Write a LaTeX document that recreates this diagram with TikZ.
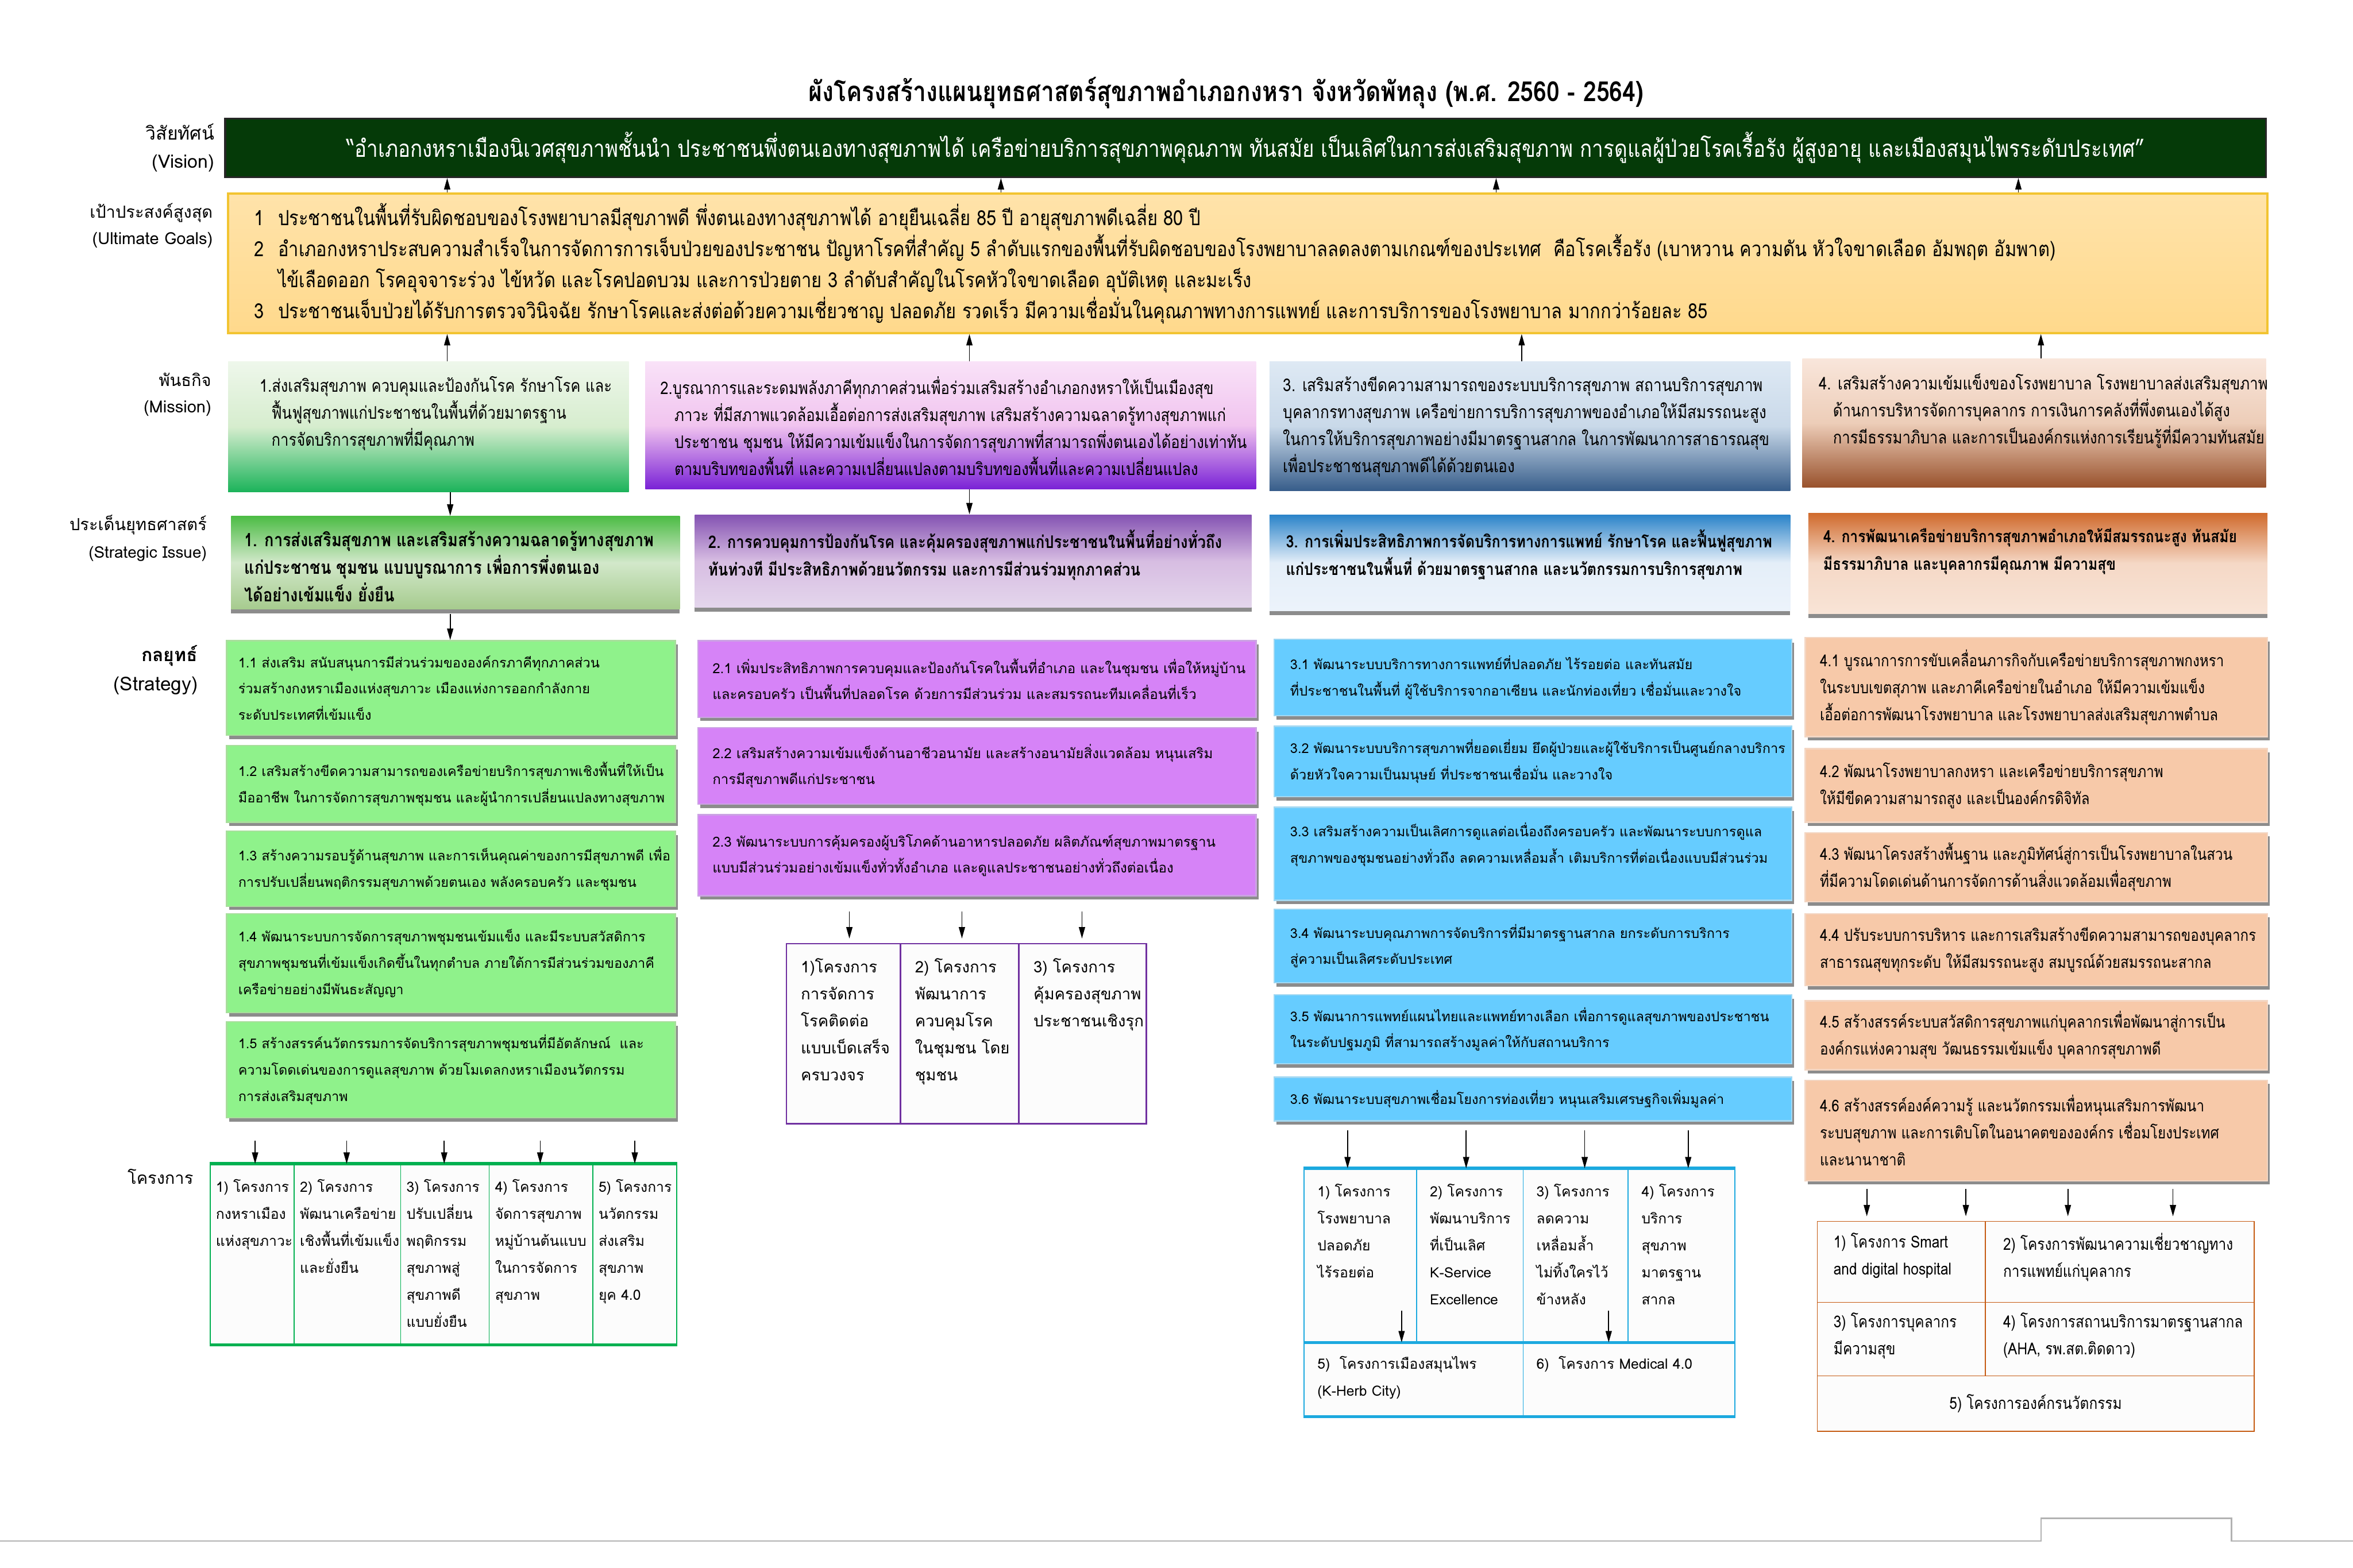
\documentclass[tikz,border=0pt]{standalone}
\usepackage{fontspec}
\usepackage{tikz}
\usetikzlibrary{arrows.meta, positioning, calc, fit, shadows}

\newfontfamily\thaiA[Script=Thai,FakeStretch=0.85]{Loma}
\newfontfamily\thaiB[Script=Thai]{Loma}

\definecolor{visgreen}{HTML}{053A08}
\definecolor{goalA}{HTML}{FFE3AA}
\definecolor{goalB}{HTML}{FFD98C}
\definecolor{goalline}{HTML}{F2C431}
\definecolor{m1a}{HTML}{EEF7EB}\definecolor{m1b}{HTML}{D6EDCE}\definecolor{m1c}{HTML}{1BB35A}
\definecolor{m2a}{HTML}{F9E2F8}\definecolor{m2b}{HTML}{F1C4EF}\definecolor{m2c}{HTML}{7A22D6}
\definecolor{m3a}{HTML}{DEE9F4}\definecolor{m3b}{HTML}{C9D9E9}\definecolor{m3c}{HTML}{375D8A}
\definecolor{m4a}{HTML}{F9E6DB}\definecolor{m4b}{HTML}{EDCDB8}\definecolor{m4c}{HTML}{98512C}
\definecolor{i1a}{HTML}{4CBC45}\definecolor{i1b}{HTML}{D2E8CA}\definecolor{i1c}{HTML}{A6CB8E}
\definecolor{i2a}{HTML}{8452B2}\definecolor{i2b}{HTML}{D7BDE2}\definecolor{i2c}{HTML}{E4D6EC}
\definecolor{i3a}{HTML}{2A83C9}\definecolor{i3b}{HTML}{E4EEF8}\definecolor{i3c}{HTML}{ECF3FB}
\definecolor{i4a}{HTML}{D06A2C}\definecolor{i4b}{HTML}{F5D8C6}\definecolor{i4c}{HTML}{F8E4D6}
\definecolor{s1fill}{HTML}{8FF28B}\definecolor{s1line}{HTML}{A8DE9C}
\definecolor{s2fill}{HTML}{D683F7}\definecolor{s2line}{HTML}{CBA3E3}
\definecolor{s3fill}{HTML}{66CCFF}\definecolor{s3line}{HTML}{A2D8F2}
\definecolor{s4fill}{HTML}{F7C9A9}\definecolor{s4line}{HTML}{F3D6C3}
\definecolor{pgreen}{HTML}{00B050}
\definecolor{ppurple}{HTML}{7030A0}
\definecolor{pblue}{HTML}{1CA9DF}
\definecolor{porange}{HTML}{C55A11}

\begin{document}
\begin{tikzpicture}[x=0.3164mm, y=-0.3164mm,
  lab/.style={anchor=east, inner sep=0pt, font=\thaiB\fontsize{10}{13}\selectfont},
  arr/.style={-{Triangle[length=2.4mm,width=1.3mm]}, line width=0.6pt},
  tl/.style={anchor=north west, align=left, inner sep=0pt},
  stxt/.style={anchor=west, align=left, inner sep=0pt},
  sibox/.style={inner sep=0pt, drop shadow={shadow xshift=0mm, shadow yshift=-0.9mm, fill=black!45, opacity=1}},
  strat/.style={inner sep=0pt, line width=0.8pt, drop shadow={shadow xshift=0.5mm, shadow yshift=-0.8mm, fill=black!45, opacity=1}},
  cell/.style={inner sep=0pt, fill=black!1, line width=0.6pt},
  ptxt/.style={anchor=north west, align=left, inner sep=0pt, font=\thaiB\fontsize{8.5}{16.2}\selectfont}]
\useasboundingbox (0,0) rectangle (1568,1045);

% หัวเรื่อง
\node[font=\thaiA\bfseries\fontsize{16.6}{19}\selectfont] (title) at (817,62)
  {ผังโครงสร้างแผนยุทธศาสตร์สุขภาพอำเภอกงหรา จังหวัดพัทลุง (พ.ศ. 2560 - 2564)};

% ป้ายด้านซ้าย
\foreach \x/\y/\n/\txt in {142/142/lg1/เป้าประสงค์สูงสุด, 142/160/lg2/(Ultimate Goals),
  141/253/lm1/พันธกิจ, 141/272/lm2/(Mission),
  138/350/li1/ประเด็นยุทธศาสตร์, 129/784/lp1/โครงการ}
  \node[lab] (\n) at (\x,\y) {\txt};
\node[lab, font=\thaiB\fontsize{11}{13}\selectfont] (lv1) at (143,88) {วิสัยทัศน์};
\node[lab, font=\thaiB\fontsize{11}{13}\selectfont] (lv2) at (143,109) {(Vision)};
\node[lab, font=\thaiB\fontsize{9.6}{13}\selectfont] (li2) at (138,369) {(Strategic Issue)};
\node[lab, font=\thaiB\bfseries\fontsize{11}{14}\selectfont] (ls1) at (132,437) {กลยุทธ์};
\node[lab, font=\thaiB\fontsize{11.5}{14}\selectfont] (ls2) at (132,457) {(Strategy)};

% วิสัยทัศน์
\node[fit={(150,79)(1510,118)}, inner sep=0pt, fill=visgreen, draw=black!85, line width=1.2pt] (vis) {};
\node[text=white, inner sep=0pt, font=\thaiA\fontsize{14.2}{16}\selectfont] (vist) at (vis.center)
  {“อำเภอกงหราเมืองนิเวศสุขภาพชั้นนำ ประชาชนพึ่งตนเองทางสุขภาพได้ เครือข่ายบริการสุขภาพคุณภาพ ทันสมัย เป็นเลิศในการส่งเสริมสุขภาพ การดูแลผู้ป่วยโรคเรื้อรัง ผู้สูงอายุ และเมืองสมุนไพรระดับประเทศ”};

% เป้าประสงค์สูงสุด
\node[fit={(152,129)(1511,222)}, inner sep=0pt, top color=goalA, bottom color=goalB,
  draw=goalline, line width=1.2pt] (goal) {};
\node[tl, font=\thaiA\fontsize{12.5}{18.6}\selectfont] (goalt) at ($(goal.north west)+(18,7)$)
  {\makebox[5mm][l]{1}ประชาชนในพื้นที่รับผิดชอบของโรงพยาบาลมีสุขภาพดี พึ่งตนเองทางสุขภาพได้ อายุยืนเฉลี่ย 85 ปี อายุสุขภาพดีเฉลี่ย 80 ปี\\
   \makebox[5mm][l]{2}อำเภอกงหราประสบความสำเร็จในการจัดการการเจ็บป่วยของประชาชน ปัญหาโรคที่สำคัญ 5 ลำดับแรกของพื้นที่รับผิดชอบของโรงพยาบาลลดลงตามเกณฑ์ของประเทศ~ คือโรคเรื้อรัง (เบาหวาน ความดัน หัวใจขาดเลือด อัมพฤต อัมพาต)\\
   \hspace*{5mm}ไข้เลือดออก โรคอุจจาระร่วง ไข้หวัด และโรคปอดบวม และการป่วยตาย 3 ลำดับสำคัญในโรคหัวใจขาดเลือด อุบัติเหตุ และมะเร็ง\\
   \makebox[5mm][l]{3}ประชาชนเจ็บป่วยได้รับการตรวจวินิจฉัย รักษาโรคและส่งต่อด้วยความเชี่ยวชาญ ปลอดภัย รวดเร็ว มีความเชื่อมั่นในคุณภาพทางการแพทย์ และการบริการของโรงพยาบาล มากกว่าร้อยละ 85};

% พันธกิจ
\node[fit={(152,241)(419,328)}, inner sep=0pt, top color=m1a, bottom color=m1c, middle color=m1b] (m1) {};
\node[fit={(430,241)(837,326)}, inner sep=0pt, top color=m2a, bottom color=m2c, middle color=m2b] (m2) {};
\node[fit={(846,241)(1193,327)}, inner sep=0pt, top color=m3a, bottom color=m3c, middle color=m3b] (m3) {};
\node[fit={(1201,239)(1510,325)}, inner sep=0pt, top color=m4a, bottom color=m4c, middle color=m4b] (m4) {};
\begin{scope}[every node/.style={tl, font=\thaiA\fontsize{10.4}{16.2}\selectfont}]
\node (m1t) at ($(m1.north west)+(21,10)$) {1.ส่งเสริมสุขภาพ ควบคุมและป้องกันโรค รักษาโรค และ\\
  \hspace*{2.5mm}ฟื้นฟูสุขภาพแก่ประชาชนในพื้นที่ด้วยมาตรฐาน\\
  \hspace*{2.5mm}การจัดบริการสุขภาพที่มีคุณภาพ};
\node (m2t) at ($(m2.north west)+(10,10)$) {2.บูรณาการและระดมพลังภาคีทุกภาคส่วนเพื่อร่วมเสริมสร้างอำเภอกงหราให้เป็นเมืองสุข\\
  \hspace*{3mm}ภาวะ ที่มีสภาพแวดล้อมเอื้อต่อการส่งเสริมสุขภาพ เสริมสร้างความฉลาดรู้ทางสุขภาพแก่\\
  \hspace*{3mm}ประชาชน ชุมชน ให้มีความเข้มแข็งในการจัดการสุขภาพที่สามารถพึ่งตนเองได้อย่างเท่าทัน\\
  \hspace*{3mm}ตามบริบทของพื้นที่ และความเปลี่ยนแปลงตามบริบทของพื้นที่และความเปลี่ยนแปลง};
\node[font=\thaiA\fontsize{10.6}{16.2}\selectfont] (m3t) at ($(m3.north west)+(9,10)$) {3. เสริมสร้างขีดความสามารถของระบบบริการสุขภาพ สถานบริการสุขภาพ\\
  บุคลากรทางสุขภาพ เครือข่ายการบริการสุขภาพของอำเภอให้มีสมรรถนะสูง\\
  ในการให้บริการสุขภาพอย่างมีมาตรฐานสากล ในการพัฒนาการสาธารณสุข\\
  เพื่อประชาชนสุขภาพดีได้ด้วยตนเอง};
\node (m4t) at ($(m4.north west)+(11,10)$) {4. เสริมสร้างความเข้มแข็งของโรงพยาบาล โรงพยาบาลส่งเสริมสุขภาพ\\
  \hspace*{3mm}ด้านการบริหารจัดการบุคลากร การเงินการคลังที่พึ่งตนเองได้สูง\\
  \hspace*{3mm}การมีธรรมาภิบาล และการเป็นองค์กรแห่งการเรียนรู้ที่มีความทันสมัย};
\end{scope}

% ประเด็นยุทธศาสตร์
\node[sibox, fit={(154,344)(453,406)}, top color=i1a, bottom color=i1c, middle color=i1b] (si1) {};
\node[sibox, fit={(463,343)(834,405)}, top color=i2a, bottom color=i2c, middle color=i2b] (si2) {};
\node[sibox, fit={(846,343)(1193,407)}, top color=i3a, bottom color=i3c, middle color=i3b] (si3) {};
\node[sibox, fit={(1205,342)(1511,409)}, top color=i4a, bottom color=i4c, middle color=i4b] (si4) {};
\node[tl, font=\thaiA\bfseries\fontsize{11}{16.6}\selectfont] (si1t) at ($(si1.north west)+(9,10)$)
  {1. การส่งเสริมสุขภาพ และเสริมสร้างความฉลาดรู้ทางสุขภาพ\\แก่ประชาชน ชุมชน แบบบูรณาการ เพื่อการพึ่งตนเอง\\ได้อย่างเข้มแข็ง ยั่งยืน};
\node[tl, font=\thaiA\bfseries\fontsize{10.4}{16.6}\selectfont] (si2t) at ($(si2.north west)+(9,10)$)
  {2. การควบคุมการป้องกันโรค และคุ้มครองสุขภาพแก่ประชาชนในพื้นที่อย่างทั่วถึง\\ทันท่วงที มีประสิทธิภาพด้วยนวัตกรรม และการมีส่วนร่วมทุกภาคส่วน};
\node[tl, font=\thaiA\bfseries\fontsize{10.2}{16.6}\selectfont] (si3t) at ($(si3.north west)+(11,10)$)
  {3. การเพิ่มประสิทธิภาพการจัดบริการทางการแพทย์ รักษาโรค และฟื้นฟูสุขภาพ\\แก่ประชาชนในพื้นที่ ด้วยมาตรฐานสากล และนวัตกรรมการบริการสุขภาพ};
\node[tl, font=\thaiA\bfseries\fontsize{10}{16.6}\selectfont] (si4t) at ($(si4.north west)+(10,10)$)
  {4. การพัฒนาเครือข่ายบริการสุขภาพอำเภอให้มีสมรรถนะสูง ทันสมัย\\มีธรรมาภิบาล และบุคลากรมีคุณภาพ มีความสุข};

% กลยุทธ์ 1
\foreach \n/\ya/\yb/\txt in {
  1/427/490/{1.1 ส่งเสริม สนับสนุนการมีส่วนร่วมขององค์กรภาคีทุกภาคส่วน\\ร่วมสร้างกงหราเมืองแห่งสุขภาวะ เมืองแห่งการออกกำลังกาย\\ระดับประเทศที่เข้มแข็ง},
  2/497/548/{1.2 เสริมสร้างขีดความสามารถของเครือข่ายบริการสุขภาพเชิงพื้นที่ให้เป็น\\มืออาชีพ ในการจัดการสุขภาพชุมชน และผู้นำการเปลี่ยนแปลงทางสุขภาพ},
  3/554/604/{1.3 สร้างความรอบรู้ด้านสุขภาพ และการเห็นคุณค่าของการมีสุขภาพดี เพื่อ\\การปรับเปลี่ยนพฤติกรรมสุขภาพด้วยตนเอง พลังครอบครัว และชุมชน},
  4/609/675/{1.4 พัฒนาระบบการจัดการสุขภาพชุมชนเข้มแข็ง และมีระบบสวัสดิการ\\สุขภาพชุมชนที่เข้มแข็งเกิดขึ้นในทุกตำบล ภายใต้การมีส่วนร่วมของภาคี\\เครือข่ายอย่างมีพันธะสัญญา},
  5/681/745/{1.5 สร้างสรรค์นวัตกรรมการจัดบริการสุขภาพชุมชนที่มีอัตลักษณ์~ และ\\ความโดดเด่นของการดูแลสุขภาพ ด้วยโมเดลกงหราเมืองนวัตกรรม\\การส่งเสริมสุขภาพ}}{
  \node[strat, fill=s1fill, draw=s1line, fit={(151,\ya)(450,\yb)}] (s1\n) {};
  \node[stxt, font=\thaiB\fontsize{8.1}{15.8}\selectfont] (t1\n) at ($(s1\n.west)+(8,0)$) {\txt};
}

% กลยุทธ์ 2
\foreach \n/\ya/\yb/\txt in {
  1/427/478/{2.1 เพิ่มประสิทธิภาพการควบคุมและป้องกันโรคในพื้นที่อำเภอ และในชุมชน เพื่อให้หมู่บ้าน\\และครอบครัว เป็นพื้นที่ปลอดโรค ด้วยการมีส่วนร่วม และสมรรถนะทีมเคลื่อนที่เร็ว},
  2/485/536/{2.2 เสริมสร้างความเข้มแข็งด้านอาชีวอนามัย และสร้างอนามัยสิ่งแวดล้อม หนุนเสริม\\การมีสุขภาพดีแก่ประชาชน},
  3/543/597/{2.3 พัฒนาระบบการคุ้มครองผู้บริโภคด้านอาหารปลอดภัย ผลิตภัณฑ์สุขภาพมาตรฐาน\\แบบมีส่วนร่วมอย่างเข้มแข็งทั่วทั้งอำเภอ และดูแลประชาชนอย่างทั่วถึงต่อเนื่อง}}{
  \node[strat, fill=s2fill, draw=s2line, fit={(465,\ya)(837,\yb)}] (s2\n) {};
  \node[stxt, font=\thaiB\fontsize{8.3}{15.4}\selectfont] (t2\n) at ($(s2\n.west)+(10,0)$) {\txt};
}

% กลยุทธ์ 3
\foreach \n/\ya/\yb/\dy/\txt in {
  1/426/477/0/{3.1 พัฒนาระบบบริการทางการแพทย์ที่ปลอดภัย ไร้รอยต่อ และทันสมัย\\ที่ประชาชนในพื้นที่ ผู้ใช้บริการจากอาเซียน และนักท่องเที่ยว เชื่อมั่นและวางใจ},
  2/484/531/0/{3.2 พัฒนาระบบบริการสุขภาพที่ยอดเยี่ยม ยึดผู้ป่วยและผู้ใช้บริการเป็นศูนย์กลางบริการ\\ด้วยหัวใจความเป็นมนุษย์ ที่ประชาชนเชื่อมั่น และวางใจ},
  3/538/600/-6/{3.3 เสริมสร้างความเป็นเลิศการดูแลต่อเนื่องถึงครอบครัว และพัฒนาระบบการดูแล\\สุขภาพของชุมชนอย่างทั่วถึง ลดความเหลื่อมล้ำ เติมบริการที่ต่อเนื่องแบบมีส่วนร่วม},
  4/606/655/0/{3.4 พัฒนาระบบคุณภาพการจัดบริการที่มีมาตรฐานสากล ยกระดับการบริการ\\สู่ความเป็นเลิศระดับประเทศ},
  5/663/709/0/{3.5 พัฒนาการแพทย์แผนไทยและแพทย์ทางเลือก เพื่อการดูแลสุขภาพของประชาชน\\ในระดับปฐมภูมิ ที่สามารถสร้างมูลค่าให้กับสถานบริการ},
  6/718/747/0/{3.6 พัฒนาระบบสุขภาพเชื่อมโยงการท่องเที่ยว หนุนเสริมเศรษฐกิจเพิ่มมูลค่า}}{
  \node[strat, fill=s3fill, draw=s3line, fit={(849,\ya)(1194,\yb)}] (s3\n) {};
  \node[stxt, font=\thaiB\fontsize{8.1}{15.8}\selectfont] (t3\n) at ($(s3\n.west)+(11,\dy)$) {\txt};
}

% กลยุทธ์ 4
\foreach \n/\ya/\yb/\txt in {
  1/425/491/{4.1 บูรณาการการขับเคลื่อนภารกิจกับเครือข่ายบริการสุขภาพกงหรา\\ในระบบเขตสุภาพ และภาคีเครือข่ายในอำเภอ ให้มีความเข้มแข็ง\\เอื้อต่อการพัฒนาโรงพยาบาล และโรงพยาบาลส่งเสริมสุขภาพตำบล},
  2/499/548/{4.2 พัฒนาโรงพยาบาลกงหรา และเครือข่ายบริการสุขภาพ\\ให้มีขีดความสามารถสูง และเป็นองค์กรดิจิทัล},
  3/555/601/{4.3 พัฒนาโครงสร้างพื้นฐาน และภูมิทัศน์สู่การเป็นโรงพยาบาลในสวน\\ที่มีความโดดเด่นด้านการจัดการด้านสิ่งแวดล้อมเพื่อสุขภาพ},
  4/609/657/{4.4 ปรับระบบการบริหาร และการเสริมสร้างขีดความสามารถของบุคลากร\\สาธารณสุขทุกระดับ ให้มีสมรรถนะสูง สมบูรณ์ด้วยสมรรถนะสากล},
  5/667/713/{4.5 สร้างสรรค์ระบบสวัสดิการสุขภาพแก่บุคลากรเพื่อพัฒนาสู่การเป็น\\องค์กรแห่งความสุข วัฒนธรรมเข้มแข็ง บุคลากรสุขภาพดี},
  6/720/787/{4.6 สร้างสรรค์องค์ความรู้ และนวัตกรรมเพื่อหนุนเสริมการพัฒนา\\ระบบสุขภาพ และการเติบโตในอนาคตขององค์กร เชื่อมโยงประเทศ\\และนานาชาติ}}{
  \node[strat, fill=s4fill, draw=s4line, fit={(1203,\ya)(1511,\yb)}] (s4\n) {};
  \node[stxt, font=\thaiA\fontsize{9.8}{16.2}\selectfont] (t4\n) at ($(s4\n.west)+(10,0)$) {\txt};
}

% โครงการ 1
\foreach \n/\xa/\xb/\txt in {
  1/140/196/{1) โครงการ\\กงหราเมือง\\แห่งสุขภาวะ},
  2/196/267/{2) โครงการ\\พัฒนาเครือข่าย\\เชิงพื้นที่เข้มแข็ง\\และยั่งยืน},
  3/267/326/{3) โครงการ\\ปรับเปลี่ยน\\พฤติกรรม\\สุขภาพสู่\\สุขภาพดี\\แบบยั่งยืน},
  4/326/395/{4) โครงการ\\จัดการสุขภาพ\\หมู่บ้านต้นแบบ\\ในการจัดการ\\สุขภาพ},
  5/395/451/{5) โครงการ\\นวัตกรรม\\ส่งเสริม\\สุขภาพ\\ยุค 4.0}}{
  \node[cell, draw=pgreen, fit={(\xa,776)(\xb,896)}] (p1\n) {};
  \node[ptxt] (q1\n) at ($(p1\n.north west)+(4,10)$) {\txt};
}
\draw[pgreen, line width=2pt] (p11.north west) -- (p15.north east) (p11.south west) -- (p15.south east);

% โครงการ 2
\foreach \n/\xa/\xb/\txt in {
  1/524/600/{1)โครงการ\\การจัดการ\\โรคติดต่อ\\แบบเบ็ดเสร็จ\\ครบวงจร},
  2/600/679/{2) โครงการ\\พัฒนาการ\\ควบคุมโรค\\ในชุมชน โดย\\ชุมชน},
  3/679/764/{3) โครงการ\\คุ้มครองสุขภาพ\\ประชาชนเชิงรุก}}{
  \node[cell, draw=ppurple, line width=0.9pt, fit={(\xa,629)(\xb,749)}] (p2\n) {};
  \node[ptxt, font=\thaiB\fontsize{9.5}{16.2}\selectfont] (q2\n) at ($(p2\n.north west)+(10,10)$) {\txt};
}

% โครงการ 3
\foreach \n/\xa/\xb/\txt in {
  1/869/944/{1) โครงการ\\โรงพยาบาล\\ปลอดภัย\\ไร้รอยต่อ},
  2/944/1015/{2) โครงการ\\พัฒนาบริการ\\ที่เป็นเลิศ\\K-Service\\Excellence},
  3/1015/1085/{3) โครงการ\\ลดความ\\เหลื่อมล้ำ\\ไม่ทิ้งใครไว้\\ข้างหลัง},
  4/1085/1156/{4) โครงการ\\บริการ\\สุขภาพ\\มาตรฐาน\\สากล}}{
  \node[cell, draw=pblue, fit={(\xa,779)(\xb,895)}] (p3\n) {};
  \node[ptxt] (q3\n) at ($(p3\n.north west)+(9,10)$) {\txt};
}
\node[cell, draw=pblue, fit={(869,895)(1015,944)}] (p35) {};
\node[cell, draw=pblue, fit={(1015,895)(1156,944)}] (p36) {};
\node[ptxt] (q35) at ($(p35.north west)+(9,9)$) {5)~ โครงการเมืองสมุนไพร\\(K-Herb City)};
\node[ptxt] (q36) at ($(p36.north west)+(9,9)$) {6)~ โครงการ Medical 4.0};
\draw[pblue, line width=1.8pt] (p31.north west) -- (p34.north east) (p35.north west) -- (p36.north east)
  (p35.south west) -- (p36.south east);

% โครงการ 4
\node[cell, draw=porange, fit={(1211,814)(1323,868)}] (p41) {};
\node[cell, draw=porange, fit={(1323,814)(1502,868)}] (p42) {};
\node[cell, draw=porange, fit={(1211,868)(1323,917)}] (p43) {};
\node[cell, draw=porange, fit={(1323,868)(1502,917)}] (p44) {};
\node[cell, draw=porange, fit={(1211,917)(1502,954)}] (p45) {};
\begin{scope}[every node/.style={ptxt, font=\thaiA\fontsize{9.9}{16.2}\selectfont}]
\node (q41) at ($(p41.north west)+(11,8)$) {1) โครงการ Smart\\and digital hospital};
\node (q42) at ($(p42.north west)+(12,8)$) {2) โครงการพัฒนาความเชี่ยวชาญทาง\\การแพทย์แก่บุคลากร};
\node (q43) at ($(p43.north west)+(11,7)$) {3) โครงการบุคลากร\\มีความสุข};
\node (q44) at ($(p44.north west)+(12,7)$) {4) โครงการสถานบริการมาตรฐานสากล\\(AHA, รพ.สต.ติดดาว)};
\node[anchor=center] (q45) at (p45.center) {5) โครงการองค์กรนวัตกรรม};
\end{scope}

% ลูกศร
\foreach \x in {298,667,997,1345}
  \draw[arr] (goal.north -| \x,0) -- (vis.south -| \x,0);
\foreach \m/\x in {m1/298, m2/646, m3/1014, m4/1360}
  \draw[arr] (\m.north -| \x,0) -- (goal.south -| \x,0);
\draw[arr] (m1.south -| 300,0) -- (si1.north -| 300,0);
\draw[arr] (m2.south -| 646,0) -- (si2.north -| 646,0);
\draw[arr] ($(si1.south -| 300,0)+(0,3)$) -- (s11.north -| 300,0);
\foreach \p/\x in {p11/170, p12/231, p13/296, p14/360, p15/423}
  \draw[arr] ($(s15.south -| \x,0)+(0,15)$) -- (\p.north -| \x,0);
\foreach \p/\x in {p21/566, p22/641, p23/721}
  \draw[arr] ($(s23.south -| \x,0)+(0,10)$) -- ($(\p.north -| \x,0)+(0,-3)$);
\foreach \p/\x in {p31/898, p32/977, p33/1056, p34/1125}
  \draw[arr] ($(s36.south -| \x,0)+(0,6)$) -- (\p.north -| \x,0);
\foreach \p/\x in {p41/1244, p41/1310, p42/1378, p42/1448}
  \draw[arr] ($(s46.south -| \x,0)+(0,5)$) -- ($(\p.north -| \x,0)+(0,-3)$);
\draw[arr] ($(p35.north -| 934,0)+(0,-21)$) -- (p35.north -| 934,0);
\draw[arr] ($(p36.north -| 1072,0)+(0,-21)$) -- (p36.north -| 1072,0);

% เส้นท้ายหน้า
\draw[black!30, line width=0.8pt] (0,1027) -- (1360,1027) -- (1360,1012) -- (1487,1012) -- (1487,1027) -- (1568,1027);
\end{tikzpicture}
\end{document}
